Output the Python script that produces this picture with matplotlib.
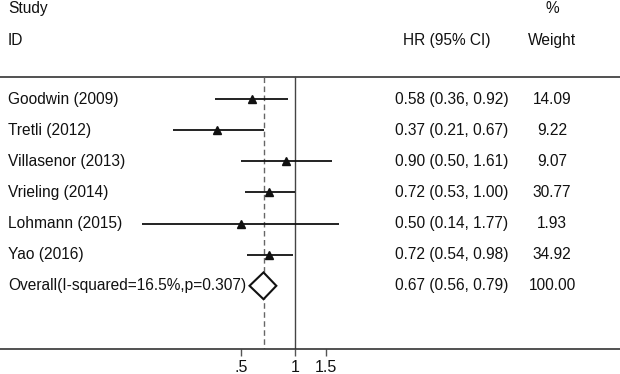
import numpy as np
import matplotlib
matplotlib.use("Agg")
import matplotlib.pyplot as plt
from matplotlib.patches import Polygon

plt.rcParams['font.family'] = ['Liberation Sans', 'DejaVu Sans']

studies = ["Goodwin (2009)", "Tretli (2012)", "Villasenor (2013)", "Vrieling (2014)",
           "Lohmann (2015)", "Yao (2016)"]
hr = [0.58, 0.37, 0.90, 0.72, 0.50, 0.72]
lo = [0.36, 0.21, 0.50, 0.53, 0.14, 0.54]
hi = [0.92, 0.67, 1.61, 1.00, 1.77, 0.98]
weights = ["14.09", "9.22", "9.07", "30.77", "1.93", "34.92"]
overall_label = "Overall(I-squared=16.5%,p=0.307)"
overall = (0.67, 0.56, 0.79)
overall_weight = "100.00"
xticks = [0.5, 1, 1.5]
xticklabels = [".5", "1", "1.5"]

W, H = 620, 374
fig = plt.figure(figsize=(W / 100, H / 100), dpi=100)
ax = fig.add_axes([0, (H - 349) / H, 1, 349 / H])
ax.set_xscale('log')
# pixel mapping: px = 294.7 + 77.9*ln(x)
x0 = np.exp((0 - 294.7) / 77.9)
x1 = np.exp((W - 294.7) / 77.9)
ax.set_xlim(x0, x1)
ax.set_ylim(8.03, -3.18)

for s in ['top', 'left', 'right']:
    ax.spines[s].set_visible(False)
ax.spines['bottom'].set_color('#333333')
ax.spines['bottom'].set_linewidth(1.2)
ax.set_yticks([])
ax.set_xticks(xticks)
ax.set_xticklabels(xticklabels)
ax.minorticks_off()
ax.tick_params(axis='x', length=5, width=1, color='#555555', labelsize=11.5, pad=3,
               labelcolor='#111111')

txt = '#111111'
fs = 11.2
tr = ax.get_yaxis_transform()

# header
ax.text(8 / W, -2.92, "Study", transform=tr, ha='left', va='center', fontsize=fs, color=txt)
ax.text(8 / W, -1.89, "ID", transform=tr, ha='left', va='center', fontsize=fs, color=txt)
ax.text(447 / W, -1.89, "HR (95% CI)", transform=tr, ha='center', va='center', fontsize=fs, color=txt)
ax.text(552 / W, -2.92, "%", transform=tr, ha='center', va='center', fontsize=fs, color=txt)
ax.text(552 / W, -1.89, "Weight", transform=tr, ha='center', va='center', fontsize=fs, color=txt)

# top rule
ax.axhline(-0.71, color='#333333', lw=1.2)

# reference lines
ax.plot([1, 1], [-0.71, 8.03], color='#444444', lw=1.0)
ax.plot([overall[0], overall[0]], [-0.71, 8.03], color='#666666', lw=1.0,
        linestyle=(0, (4, 2.5)))

for i, (name, h, l, u, w) in enumerate(zip(studies, hr, lo, hi, weights)):
    ax.plot([l, u], [i, i], color='#111111', lw=1.3, solid_capstyle='butt')
    ax.plot([h], [i], marker='^', color='#111111', markersize=6, linestyle='none')
    ax.text(8 / W, i, name, transform=tr, ha='left', va='center', fontsize=fs, color=txt)
    ax.text(395 / W, i, f"{h:.2f} ({l:.2f}, {u:.2f})", transform=tr, ha='left',
            va='center', fontsize=fs, color=txt)
    ax.text(552 / W, i, w, transform=tr, ha='center', va='center', fontsize=fs, color=txt)

io = len(studies)
d = 0.43
diamond = Polygon([(overall[1], io), (overall[0], io - d), (overall[2], io),
                   (overall[0], io + d)], closed=True, facecolor='white',
                  edgecolor='#111111', lw=1.5, zorder=3)
ax.add_patch(diamond)
ax.text(8 / W, io, overall_label, transform=tr, ha='left', va='center', fontsize=fs, color=txt)
ax.text(395 / W, io, f"{overall[0]:.2f} ({overall[1]:.2f}, {overall[2]:.2f})", transform=tr,
        ha='left', va='center', fontsize=fs, color=txt)
ax.text(552 / W, io, overall_weight, transform=tr, ha='center', va='center', fontsize=fs, color=txt)

fig.savefig("out.png", dpi=100)
